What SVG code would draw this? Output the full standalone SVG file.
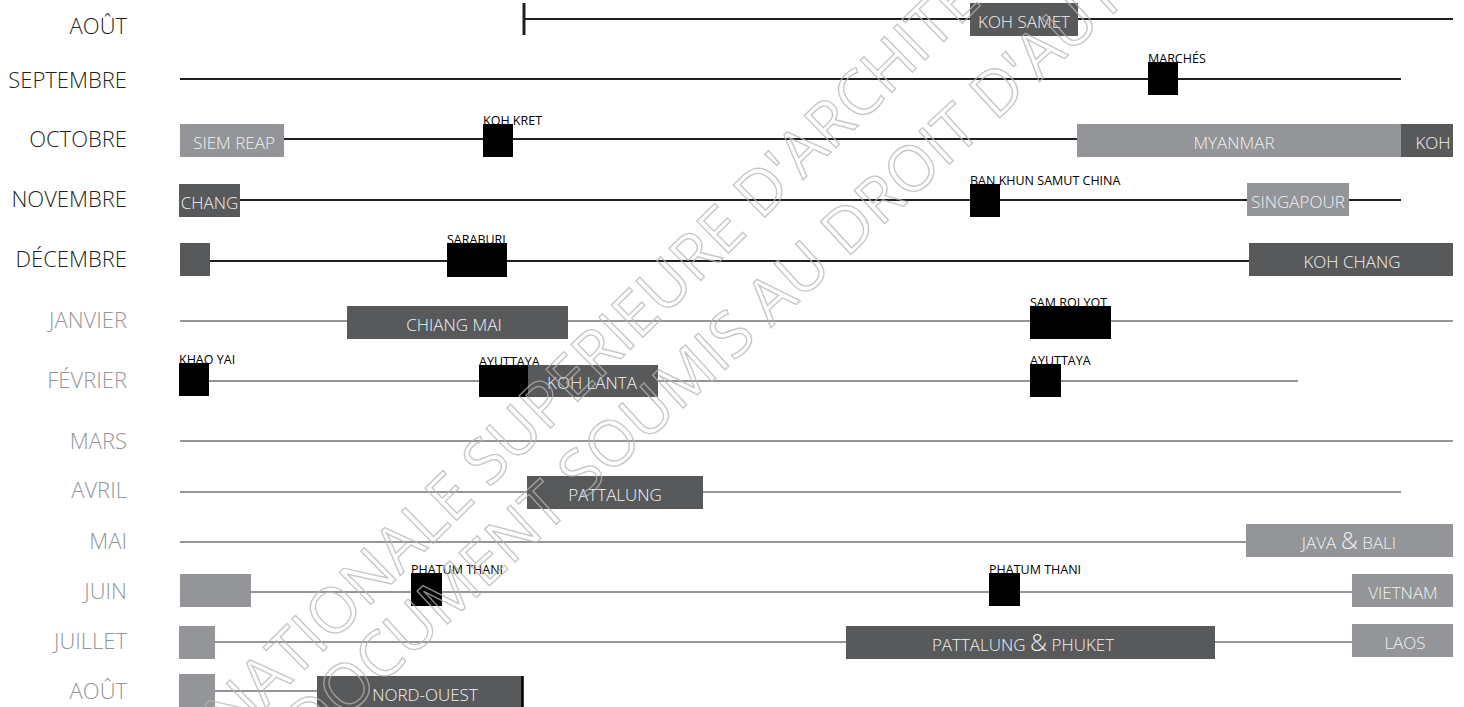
<svg xmlns="http://www.w3.org/2000/svg" width="1464" height="707" viewBox="0 0 1464 707">
<style>
.m{font-family:"Open Sans","Liberation Sans",sans-serif;font-size:22px;font-weight:300;text-anchor:end}
.mk{fill:#231f20}
.mg{fill:#939598}
.bl{stroke:#231f20;stroke-width:2;fill:none}
.gl{stroke:#939598;stroke-width:2;fill:none}
.dk{fill:#58595b}
.lt{fill:#939598}
.bk{fill:#000}
.bt{font-family:"Open Sans","Liberation Sans",sans-serif;font-size:17px;font-weight:300;fill:#f1f1f2;text-anchor:middle}
.amp{font-size:24px}
.sl{font-family:"Open Sans","Liberation Sans",sans-serif;font-size:12.5px;fill:#000}
.wm{font-family:"Open Sans","Liberation Sans",sans-serif;font-size:63px;fill:none;stroke:#b4b4b4;stroke-width:1.4;stroke-opacity:0.75}
</style>
<rect width="1464" height="707" fill="#fff"/>

<g id="months">
<text class="m mk" x="127" y="34">AOÛT</text>
<text class="m mk" x="127" y="88">SEPTEMBRE</text>
<text class="m mk" x="127" y="147">OCTOBRE</text>
<text class="m mk" x="127" y="207">NOVEMBRE</text>
<text class="m mk" x="127" y="267">DÉCEMBRE</text>
<text class="m mg" x="127" y="328">JANVIER</text>
<text class="m mg" x="127" y="388">FÉVRIER</text>
<text class="m mg" x="127" y="449">MARS</text>
<text class="m mg" x="127" y="498">AVRIL</text>
<text class="m mg" x="127" y="549">MAI</text>
<text class="m mg" x="127" y="599">JUIN</text>
<text class="m mg" x="127" y="649">JUILLET</text>
<text class="m mg" x="127" y="699">AOÛT</text>
</g>

<g id="connectors">
<line class="bl" x1="524" y1="19" x2="1453" y2="19"/>
<line x1="524" y1="3" x2="524" y2="35" stroke="#231f20" stroke-width="3"/>
<line class="bl" x1="180" y1="79" x2="1401" y2="79"/>
<line class="bl" x1="284" y1="139" x2="1077" y2="139"/>
<line class="bl" x1="240" y1="200" x2="1401" y2="200"/>
<line class="bl" x1="210" y1="261" x2="1249" y2="261"/>
<line class="gl" x1="180" y1="321" x2="1453" y2="321"/>
<line class="gl" x1="209" y1="381" x2="1298" y2="381"/>
<line class="gl" x1="180" y1="441" x2="1453" y2="441"/>
<line class="gl" x1="180" y1="492" x2="1401" y2="492"/>
<line class="gl" x1="180" y1="542" x2="1247" y2="542"/>
<line class="gl" x1="251" y1="592" x2="1352" y2="592"/>
<line class="gl" x1="215" y1="642" x2="1352" y2="642"/>
<line class="gl" x1="215" y1="691" x2="317" y2="691"/>
</g>

<g id="koh-samet"><rect class="dk" x="970" y="3" width="108" height="33"/><text class="bt" x="1024" y="28">KOH SAMET</text></g>
<g id="marches"><text class="sl" x="1148" y="63">MARCHÉS</text><rect class="bk" x="1148" y="62" width="30" height="33"/></g>

<g id="siem-reap"><rect class="lt" x="180" y="124" width="104" height="33"/><text class="bt" x="234" y="149">SIEM REAP</text></g>
<g id="koh-kret"><text class="sl" x="483" y="125">KOH KRET</text><rect class="bk" x="483" y="124" width="30" height="33"/></g>
<g id="myanmar"><rect class="lt" x="1077" y="124" width="324" height="33"/><text class="bt" x="1234" y="149">MYANMAR</text></g>
<g id="koh-oct"><rect class="dk" x="1401" y="124" width="52" height="33"/><text class="bt" x="1433" y="149">KOH</text></g>

<g id="chang"><rect class="dk" x="179" y="184" width="61" height="33"/><text class="bt" x="209.5" y="209">CHANG</text></g>
<g id="ban-khun"><text class="sl" x="970" y="185">BAN KHUN SAMUT CHINA</text><rect class="bk" x="970" y="184" width="30" height="33"/></g>
<g id="singapour"><rect class="lt" x="1247" y="183" width="102" height="33"/><text class="bt" x="1298" y="208">SINGAPOUR</text></g>

<g id="dec-start"><rect class="dk" x="180" y="243" width="30" height="33"/></g>
<g id="saraburi"><text class="sl" x="447" y="244">SARABURI</text><rect class="bk" x="447" y="243" width="60" height="34"/></g>
<g id="koh-chang"><rect class="dk" x="1249" y="243" width="204" height="33"/><text class="bt" x="1352" y="268">KOH CHANG</text></g>

<g id="chiang-mai"><rect class="dk" x="347" y="306" width="221" height="33"/><text class="bt" x="454" y="331">CHIANG MAI</text></g>
<g id="sam-roi-yot"><text class="sl" x="1030" y="307">SAM ROI YOT</text><rect class="bk" x="1030" y="306" width="81" height="33"/></g>

<g id="khao-yai"><text class="sl" x="179" y="364">KHAO YAI</text><rect class="bk" x="179" y="363" width="30" height="33"/></g>
<g id="ayuttaya-1"><text class="sl" x="479" y="366">AYUTTAYA</text><rect class="bk" x="479" y="365" width="49" height="32"/></g>
<g id="koh-lanta"><rect class="dk" x="528" y="365" width="130" height="32"/><text class="bt" x="592" y="389">KOH LANTA</text></g>
<g id="ayuttaya-2"><text class="sl" x="1030" y="365">AYUTTAYA</text><rect class="bk" x="1030" y="364" width="31" height="33"/></g>

<g id="pattalung"><rect class="dk" x="527" y="476" width="176" height="33"/><text class="bt" x="615" y="501">PATTALUNG</text></g>

<g id="java-bali"><rect class="lt" x="1246" y="524" width="207" height="33"/><text class="bt" x="1349" y="549">JAVA <tspan class="amp">&amp;</tspan> BALI</text></g>

<g id="juin-start"><rect class="lt" x="180" y="574" width="71" height="33"/></g>
<g id="phatum-1"><text class="sl" x="411" y="574">PHATUM THANI</text><rect class="bk" x="411" y="573" width="31" height="33"/></g>
<g id="phatum-2"><text class="sl" x="989" y="574">PHATUM THANI</text><rect class="bk" x="989" y="573" width="31" height="33"/></g>
<g id="vietnam"><rect class="lt" x="1352" y="574" width="101" height="33"/><text class="bt" x="1403" y="599">VIETNAM</text></g>

<g id="juillet-start"><rect class="lt" x="179" y="626" width="36" height="33"/></g>
<g id="pattalung-phuket"><rect class="dk" x="846" y="626" width="369" height="33"/><text class="bt" x="1023" y="651">PATTALUNG <tspan class="amp">&amp;</tspan> PHUKET</text></g>
<g id="laos"><rect class="lt" x="1352" y="624" width="101" height="33"/><text class="bt" x="1405" y="649">LAOS</text></g>

<g id="aout-start"><rect class="lt" x="179" y="674" width="36" height="33"/></g>
<g id="nord-ouest"><rect class="dk" x="317" y="676" width="206" height="31"/><line x1="522.5" y1="676" x2="522.5" y2="707" stroke="#000" stroke-width="2.5"/><text class="bt" x="425" y="701">NORD-OUEST</text></g>

<g id="watermark">
<text class="wm" transform="translate(232,741) rotate(-44.5)">NATIONALE SUPERIEURE D'ARCHITECTURE</text>
<text class="wm" transform="translate(310,750) rotate(-42.5)">DOCUMENT SOUMIS AU DROIT D'AUTEUR</text>
</g>
</svg>
